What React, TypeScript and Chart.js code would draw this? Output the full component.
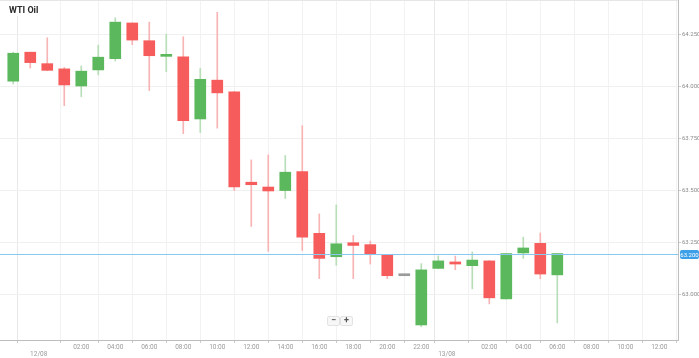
import React, { useEffect, useRef } from "react";
import { Chart, registerables } from "chart.js";

Chart.register(...registerables);

// hour offsets from 12/08 00:00
const hours = [-2, -1, 0, 1, 2, 3, 4, 5, 6, 7, 8, 9, 10, 11, 12, 13, 14, 15, 16, 17, 18, 19, 20, 21, 22, 23, 24, 25, 26, 27, 28, 29, 30];
const opens = [64.024, 64.163, 64.108, 64.083, 64.001, 64.078, 64.132, 64.303, 64.218, 64.143, 64.141, 63.843, 64.029, 63.973, 63.540, 63.517, 63.500, 63.591, 63.295, 63.183, 63.250, 63.241, 63.191, 63.092, 62.856, 63.127, 63.158, 63.140, 63.163, 62.981, 63.201, 63.247, 63.096];
const highs = [64.163, 64.163, 64.232, 64.090, 64.097, 64.197, 64.328, 64.303, 64.307, 64.249, 64.237, 64.086, 64.354, 63.975, 63.647, 63.671, 63.668, 63.811, 63.388, 63.431, 63.285, 63.258, 63.193, 63.092, 63.150, 63.187, 63.186, 63.206, 63.165, 63.198, 63.277, 63.297, 63.198];
const lows = [64.011, 64.087, 64.074, 63.907, 63.950, 64.054, 64.121, 64.199, 63.979, 64.070, 63.773, 63.778, 63.799, 63.500, 63.328, 63.209, 63.462, 63.213, 63.078, 63.142, 63.078, 63.148, 63.078, 63.092, 62.848, 63.125, 63.121, 63.029, 62.957, 62.979, 63.175, 63.077, 62.866];
const closes = [64.158, 64.113, 64.076, 64.006, 64.072, 64.139, 64.307, 64.221, 64.146, 64.147, 63.835, 64.033, 63.968, 63.517, 63.528, 63.498, 63.588, 63.277, 63.175, 63.245, 63.237, 63.196, 63.092, 63.092, 63.120, 63.163, 63.148, 63.167, 62.986, 63.198, 63.225, 63.100, 63.198];

const yTicks = [63.0, 63.25, 63.5, 63.75, 64.0, 64.25];
const xTickHours = [-0.5, 2, 4, 6, 8, 10, 12, 14, 16, 18, 20, 22, 23.5, 26, 28, 30, 32, 34, 36];
const xTickLabels: (string | string[])[] = [["", "12/08"], "02:00", "04:00", "06:00", "08:00", "10:00", "12:00", "14:00", "16:00", "18:00", "20:00", "22:00", ["", "13/08"], "02:00", "04:00", "06:00", "08:00", "10:00", "12:00"];
const currentPrice = 63.198;
const currentLabel = "63.200";
const title = "WTI Oil";

const GREEN = "#5cb85c";
const RED = "#f65c5c";
const GREEN_W = "#b8deb8";
const RED_W = "#f8b4b4";
const GRAY = "#9a9a9a";

export default function App() {
  const ref = useRef<HTMLCanvasElement>(null);
  useEffect(() => {
    const canvas = ref.current!;
    const dir = opens.map((o, i) => (closes[i] > o ? 1 : closes[i] < o ? -1 : 0));
    const bodyColors = dir.map((d) => (d > 0 ? GREEN : d < 0 ? RED : GRAY));
    const wickColors = dir.map((d) => (d > 0 ? GREEN_W : d < 0 ? RED_W : GRAY));

    const overlay = {
      id: "overlay",
      afterDatasetsDraw(chart: any) {
        const { ctx, chartArea, scales } = chart;
        const y = Math.round(scales.y.getPixelForValue(currentPrice)) + 0.5;
        ctx.save();
        ctx.strokeStyle = "#86c8f2";
        ctx.lineWidth = 1;
        ctx.beginPath();
        ctx.moveTo(chartArea.left, y);
        ctx.lineTo(chartArea.right, y);
        ctx.stroke();
        // label box
        ctx.fillStyle = "#3d9fe8";
        const bx = chartArea.right + 2;
        const bw = 19;
        const bh = 9;
        ctx.beginPath();
        (ctx as any).roundRect(bx, y - bh / 2, bw, bh, 2);
        ctx.fill();
        ctx.fillStyle = "#ffffff";
        ctx.font = "6px Roboto";
        ctx.textAlign = "center";
        ctx.textBaseline = "middle";
        ctx.fillText(currentLabel, bx + bw / 2, y + 0.5);
        ctx.restore();
      },
      afterDraw(chart: any) {
        const { ctx, chartArea } = chart;
        ctx.save();
        // top border
        ctx.strokeStyle = "#e6e6e6";
        ctx.beginPath();
        ctx.moveTo(0, 0.5);
        ctx.lineTo(chartArea.right, 0.5);
        ctx.stroke();
        // title
        ctx.fillStyle = "#ffffff";
        ctx.fillRect(0, 1, 38, 15);
        ctx.fillStyle = "#2b2b2b";
        ctx.font = "bold 9px Roboto";
        ctx.textAlign = "left";
        ctx.textBaseline = "middle";
        ctx.fillText(title, 9, 11);
        // zoom buttons
        const bxs = [327, 340];
        const glyphs = ["\u2212", "+"];
        bxs.forEach((bx, i) => {
          ctx.fillStyle = "#f7f7f7";
          ctx.strokeStyle = "#e3e3e3";
          ctx.beginPath();
          (ctx as any).roundRect(bx + 0.5, 316.5, 12, 9, 1.5);
          ctx.fill();
          ctx.stroke();
          ctx.fillStyle = "#555555";
          ctx.font = "bold 9px Roboto";
          ctx.textAlign = "center";
          ctx.textBaseline = "middle";
          ctx.fillText(glyphs[i], bx + 6.5, 321);
        });
        ctx.restore();
      },
    };

    const chart = new Chart(canvas, {
      type: "bar",
      data: {
        datasets: [
          {
            label: "wicks",
            data: hours.map((h, i) => ({ x: h, y: [lows[i], highs[i]] })) as any,
            backgroundColor: wickColors,
            barThickness: 1,
            grouped: false,
            order: 2,
            minBarLength: 1,
          } as any,
          {
            label: "bodies",
            data: hours.map((h, i) => ({ x: h, y: [Math.min(opens[i], closes[i]), Math.max(opens[i], closes[i])] })) as any,
            backgroundColor: bodyColors,
            borderColor: bodyColors,
            borderWidth: 0,
            barThickness: 11,
            grouped: false,
            order: 1,
            minBarLength: 2,
          } as any,
        ],
      },
      options: {
        responsive: false,
        animation: false,
        devicePixelRatio: 1,
        layout: { padding: 0 },
        plugins: { legend: { display: false }, tooltip: { enabled: false }, title: { display: false } },
        scales: {
          x: {
            type: "linear",
            min: -2.78,
            max: 37.1,
            offset: false,
            afterBuildTicks: (scale: any) => {
              scale.ticks = xTickHours.map((v) => ({ value: v }));
            },
            afterFit: (scale: any) => {
              scale.height = 18;
              scale.paddingLeft = 0;
              scale.paddingRight = 0;
            },
            ticks: {
              autoSkip: false,
              maxRotation: 0,
              padding: 1,
              color: "#9a9a9a",
              font: { family: "Roboto", size: 6.5, lineHeight: 1.1 },
              callback: (_v: any, i: number) => xTickLabels[i],
            },
            grid: {
              color: (c: any) => (c.tick && (c.tick.value === -0.5 || c.tick.value === 23.5) ? "#e8e8e8" : "#f2f2f2"),
              tickColor: "#cccccc",
              tickLength: 3,
              drawTicks: true,
            },
            border: { display: true, color: "#bdbdbd", width: 1 },
          },
          y: {
            type: "linear",
            position: "right",
            min: 62.784,
            max: 64.413,
            afterBuildTicks: (scale: any) => {
              scale.ticks = yTicks.map((v) => ({ value: v }));
            },
            afterFit: (scale: any) => {
              scale.width = 21;
              scale.paddingTop = 0;
              scale.paddingBottom = 0;
            },
            ticks: {
              color: "#8a8a8a",
              padding: 1,
              font: { family: "Roboto", size: 6 },
              callback: (v: any) => Number(v).toFixed(3),
            },
            grid: { color: "#f0f0f0", tickColor: "#cccccc", tickLength: 3 },
            border: { display: true, color: "#bdbdbd", width: 1 },
          },
        },
      },
      plugins: [overlay],
    } as any);
    return () => chart.destroy();
  }, []);

  return (
    <div style={{ position: "fixed", left: 0, top: 0, width: 699, height: 358, background: "#ffffff" }}>
      <canvas ref={ref} width={699} height={358} style={{ display: "block", width: 699, height: 358 }} />
    </div>
  );
}
